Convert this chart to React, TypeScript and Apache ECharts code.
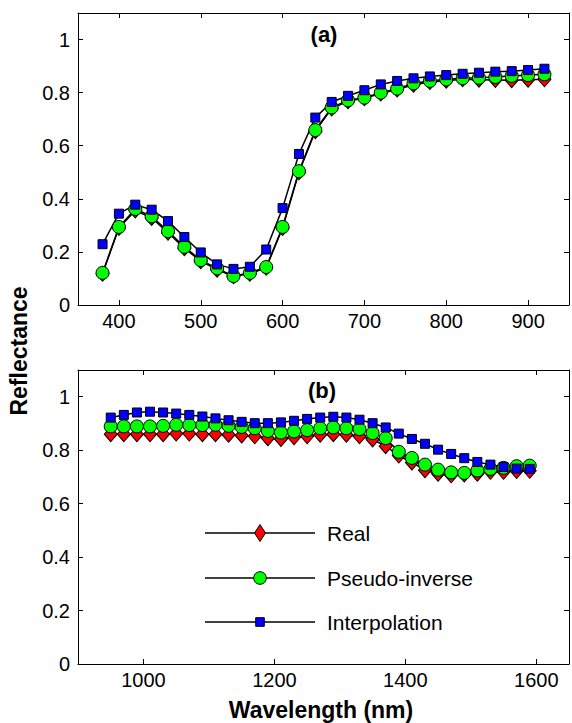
import React, { useEffect, useRef } from "react";
import * as echarts from "echarts";

// ---- Data ----
const wavelengthsA = [380, 400, 420, 440, 460, 480, 500, 520, 540, 560, 580, 600, 620, 640, 660, 680, 700, 720, 740, 760, 780, 800, 820, 840, 860, 880, 900, 920];
const realA = [0.118, 0.29, 0.356, 0.328, 0.272, 0.214, 0.165, 0.133, 0.108, 0.118, 0.14, 0.29, 0.5, 0.655, 0.74, 0.768, 0.779, 0.797, 0.812, 0.83, 0.84, 0.845, 0.85, 0.849, 0.848, 0.847, 0.849, 0.85];
const pseudoA = [0.121, 0.294, 0.362, 0.334, 0.278, 0.219, 0.169, 0.138, 0.109, 0.121, 0.143, 0.294, 0.504, 0.659, 0.744, 0.771, 0.781, 0.8, 0.815, 0.835, 0.844, 0.85, 0.854, 0.856, 0.859, 0.863, 0.866, 0.869];
const interpA = [0.229, 0.344, 0.378, 0.359, 0.316, 0.256, 0.198, 0.153, 0.136, 0.144, 0.209, 0.365, 0.569, 0.706, 0.765, 0.788, 0.809, 0.831, 0.844, 0.854, 0.861, 0.866, 0.871, 0.875, 0.879, 0.881, 0.885, 0.89];

const wavelengthsB = [950, 970, 990, 1010, 1030, 1050, 1070, 1090, 1110, 1130, 1150, 1170, 1190, 1210, 1230, 1250, 1270, 1290, 1310, 1330, 1350, 1370, 1390, 1410, 1430, 1450, 1470, 1490, 1510, 1530, 1550, 1570, 1590];
const realB = [0.86, 0.86, 0.86, 0.86, 0.86, 0.862, 0.862, 0.86, 0.86, 0.858, 0.855, 0.852, 0.845, 0.842, 0.848, 0.852, 0.858, 0.86, 0.858, 0.852, 0.84, 0.815, 0.78, 0.754, 0.725, 0.712, 0.706, 0.709, 0.712, 0.719, 0.719, 0.722, 0.723];
const pseudoB = [0.889, 0.889, 0.889, 0.889, 0.891, 0.895, 0.894, 0.894, 0.895, 0.891, 0.887, 0.882, 0.872, 0.866, 0.87, 0.875, 0.882, 0.885, 0.882, 0.879, 0.864, 0.845, 0.794, 0.771, 0.746, 0.727, 0.717, 0.715, 0.724, 0.73, 0.734, 0.74, 0.742];
const interpB = [0.922, 0.932, 0.941, 0.944, 0.941, 0.937, 0.932, 0.926, 0.919, 0.912, 0.906, 0.901, 0.901, 0.904, 0.91, 0.917, 0.922, 0.925, 0.922, 0.914, 0.901, 0.885, 0.862, 0.842, 0.824, 0.802, 0.786, 0.77, 0.756, 0.746, 0.737, 0.731, 0.73];

const seriesNames = ["Real", "Pseudo-inverse", "Interpolation"];
const panelLabels = ["(a)", "(b)"];
const xTitle = "Wavelength (nm)";
const yTitle = "Reflectance";

const FONT = "'Liberation Sans', Arial, Helvetica, sans-serif";

export default function App() {
  const ref = useRef<HTMLDivElement>(null);

  useEffect(() => {
    if (!ref.current) return;
    const chart = echarts.init(ref.current, undefined, { renderer: "svg" });

    const xBase = (gridIndex: number, min: number, max: number, split: number, showLabels: boolean, position: string) => ({
      type: "value",
      gridIndex,
      min,
      max,
      splitNumber: split,
      position,
      axisLine: { show: true, onZero: false, lineStyle: { color: "#000", width: 1 } },
      axisTick: { show: true, inside: true, length: 5, lineStyle: { color: "#000", width: 1 } },
      splitLine: { show: false },
      axisLabel: {
        show: showLabels,
        margin: 6,
        fontSize: 20,
        color: "#000",
        fontFamily: FONT,
        formatter: (v: number) => (v === min || v === max ? "" : String(v)),
      },
    });
    const yBase = (gridIndex: number, showLabels: boolean, position: string) => ({
      type: "value",
      gridIndex,
      min: 0,
      max: 1.1,
      interval: 0.2,
      position,
      axisLine: { show: true, onZero: false, lineStyle: { color: "#000", width: 1 } },
      axisTick: { show: true, inside: true, length: 5, lineStyle: { color: "#000", width: 1 } },
      splitLine: { show: false },
      axisLabel: {
        show: showLabels,
        margin: 8,
        fontSize: 20,
        color: "#000",
        fontFamily: FONT,
        formatter: (v: number) => (v > 1.05 ? "" : String(Math.round(v * 10) / 10)),
      },
    });

    const mk = (name: string, wl: number[], vals: number[], xi: number, yi: number, symbol: string, size: any, color: string) => ({
      name,
      type: "line",
      xAxisIndex: xi,
      yAxisIndex: yi,
      data: wl.map((w, i) => [w, vals[i]]),
      symbol,
      symbolSize: size,
      showAllSymbol: true,
      lineStyle: { color: "#000", width: 1.5 },
      itemStyle: { color, borderColor: "#000", borderWidth: 1 },
    });

    const legendYs = [533, 578, 622];
    const lx1 = 205, lx2 = 315, lmx = 260, ltx = 327;

    chart.setOption({
      animation: false,
      backgroundColor: "#fff",
      grid: [
        { left: 78, top: 13, width: 492, height: 292 },
        { left: 78, top: 370, width: 492, height: 294 },
      ],
      xAxis: [
        xBase(0, 350, 950, 6, true, "bottom"),
        xBase(0, 350, 950, 6, false, "top"),
        xBase(1, 900, 1650, 4, true, "bottom"),
        xBase(1, 900, 1650, 4, false, "top"),
      ],
      yAxis: [yBase(0, true, "left"), yBase(0, false, "right"), yBase(1, true, "left"), yBase(1, false, "right")],
      series: [
        mk(seriesNames[0], wavelengthsA, realA, 0, 0, "diamond", [13, 15], "#ff0000"),
        mk(seriesNames[1], wavelengthsA, pseudoA, 0, 0, "circle", 13, "#00ff00"),
        mk(seriesNames[2], wavelengthsA, interpA, 0, 0, "rect", 9, "#0000ff"),
        mk(seriesNames[0], wavelengthsB, realB, 2, 2, "diamond", [13, 15], "#ff0000"),
        mk(seriesNames[1], wavelengthsB, pseudoB, 2, 2, "circle", 13, "#00ff00"),
        mk(seriesNames[2], wavelengthsB, interpB, 2, 2, "rect", 9, "#0000ff"),
      ],
      graphic: [
        { type: "text", x: 324, y: 34, style: { text: panelLabels[0], font: `bold 22px ${FONT}`, fill: "#000", align: "center", verticalAlign: "middle" } },
        { type: "text", x: 322, y: 390, style: { text: panelLabels[1], font: `bold 22px ${FONT}`, fill: "#000", align: "center", verticalAlign: "middle" } },
        { type: "text", x: 321, y: 710, style: { text: xTitle, font: `bold 23px ${FONT}`, fill: "#000", align: "center", verticalAlign: "middle" } },
        { type: "text", x: 19, y: 351, rotation: Math.PI / 2, style: { text: yTitle, font: `bold 23px ${FONT}`, fill: "#000", align: "center", verticalAlign: "middle" } },
        // legend
        ...legendYs.map((y) => ({ type: "line", shape: { x1: lx1, y1: y, x2: lx2, y2: y }, style: { stroke: "#000", lineWidth: 1.5 }, z: 100 })),
        {
          type: "polygon",
          shape: { points: [[lmx, legendYs[0] - 8.5], [lmx + 5.5, legendYs[0]], [lmx, legendYs[0] + 8.5], [lmx - 5.5, legendYs[0]]] },
          style: { fill: "#ff0000", stroke: "#000", lineWidth: 1 },
          z: 101,
        },
        { type: "circle", shape: { cx: lmx, cy: legendYs[1], r: 6.3 }, style: { fill: "#00ff00", stroke: "#000", lineWidth: 1 }, z: 101 },
        { type: "rect", shape: { x: lmx - 4.3, y: legendYs[2] - 4.3, width: 8.6, height: 8.6 }, style: { fill: "#0000ff", stroke: "#000", lineWidth: 1 }, z: 101 },
        ...seriesNames.map((t, i) => ({
          type: "text",
          x: ltx,
          y: legendYs[i],
          style: { text: t, font: `21px ${FONT}`, fill: "#000", align: "left", verticalAlign: "middle" },
          z: 101,
        })),
      ],
    });

    return () => chart.dispose();
  }, []);

  return <div ref={ref} style={{ position: "absolute", left: 0, top: 0, width: 572, height: 723 }} />;
}
